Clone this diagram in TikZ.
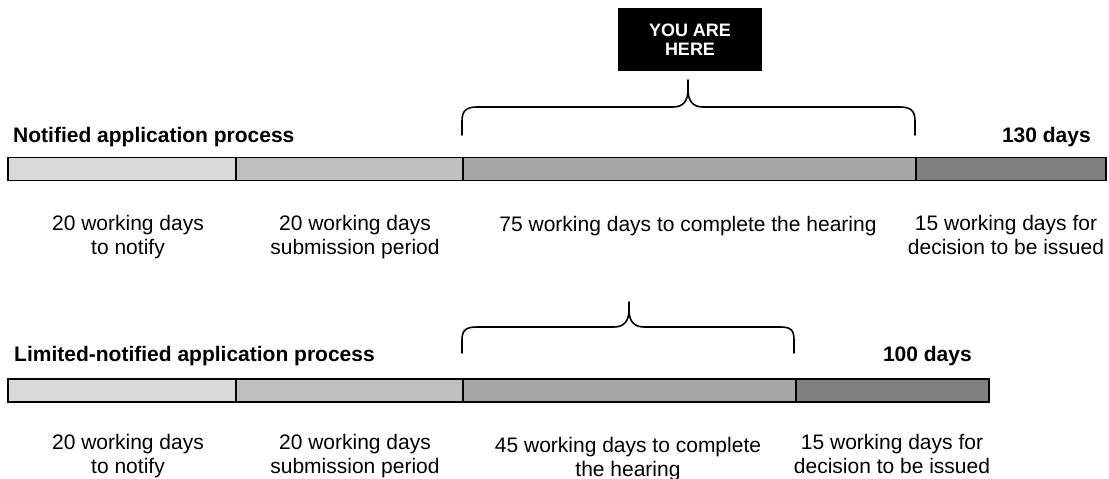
\documentclass[tikz,border=0pt]{standalone}
\usepackage{fontspec}
\setmainfont{Liberation Sans}
\definecolor{cA}{HTML}{D9D9D9}
\definecolor{cB}{HTML}{BFBFBF}
\definecolor{cC}{HTML}{A6A6A6}
\definecolor{cD}{HTML}{808080}
\begin{document}
\begin{tikzpicture}[x=1bp,y=-1bp,
  seg/.style={draw=black,line width=1.6bp,inner sep=0pt,minimum height=23bp,anchor=west},
  lbl/.style={font=\fontsize{21bp}{24bp}\selectfont,align=center,anchor=base,inner sep=0pt},
  ttl/.style={font=\bfseries\fontsize{21bp}{24bp}\selectfont,inner sep=0pt},
  bracepath/.style={line width=1.6bp,line join=round,line cap=round}]
\useasboundingbox (0,0) rectangle (1109,479);

% YOU ARE HERE box
\node[fill=black,text=white,minimum width=144bp,minimum height=63bp,inner sep=0pt,
      align=center,font=\bfseries\fontsize{18bp}{19bp}\selectfont] (here) at (690,39.5) {YOU ARE\\HERE};

% titles
\node[ttl,anchor=base west] (t1) at (13,143) {Notified application process};
\node[ttl,anchor=base east] (d1) at (1091,143) {130 days};
\node[ttl,anchor=base west] (t2) at (14,362) {Limited-notified application process};
\node[ttl,anchor=base east] (d2) at (972,362) {100 days};

% top bar
\node[seg,fill=cA,minimum width=228bp] (s1) at (7,169) {};
\node[seg,fill=cB,minimum width=227bp] (s2) at (235,169) {};
\node[seg,fill=cC,minimum width=453bp] (s3) at (462,169) {};
\node[seg,fill=cD,minimum width=190bp] (s4) at (915,169) {};

% bottom bar
\node[seg,fill=cA,minimum width=228bp] (b1) at (7,390.5) {};
\node[seg,fill=cB,minimum width=227bp] (b2) at (235,390.5) {};
\node[seg,fill=cC,minimum width=333bp] (b3) at (462,390.5) {};
\node[seg,fill=cD,minimum width=193bp] (b4) at (795,390.5) {};

% top brace
\draw[bracepath] (462,135) -- (462,121) .. controls (462,111) and (466,107) .. (477,107)
  -- (673,107) .. controls (683,107) and (688,101) .. (688,90) -- (688,80)
  -- (688,90) .. controls (688,101) and (693,107) .. (703,107)
  -- (900,107) .. controls (911,107) and (915,111) .. (915,121) -- (915,135);

% bottom brace
\draw[bracepath] (462,353) -- (462,340) .. controls (462,330) and (466,327) .. (477,327)
  -- (614,327) .. controls (624,327) and (629,321) .. (629,310) -- (629,302)
  -- (629,310) .. controls (629,321) and (634,327) .. (644,327)
  -- (780,327) .. controls (791,327) and (794,330) .. (794,340) -- (794,353);

% top labels (anchor base = last line)
\node[lbl] (l1) at (128,255) {20 working days\\to notify};
\node[lbl] (l2) at (355,255) {20 working days\\submission period};
\node[lbl] (l3) at (688,232) {75 working days to complete the hearing};
\node[lbl] (l4) at (1006,255) {15 working days for\\decision to be issued};

% bottom labels
\node[lbl] (m1) at (128,473) {20 working days\\to notify};
\node[lbl] (m2) at (355,473) {20 working days\\submission period};
\node[lbl] (m3) at (628,476) {45 working days to complete\\the hearing};
\node[lbl] (m4) at (892,473) {15 working days for\\decision to be issued};
\end{tikzpicture}
\end{document}
